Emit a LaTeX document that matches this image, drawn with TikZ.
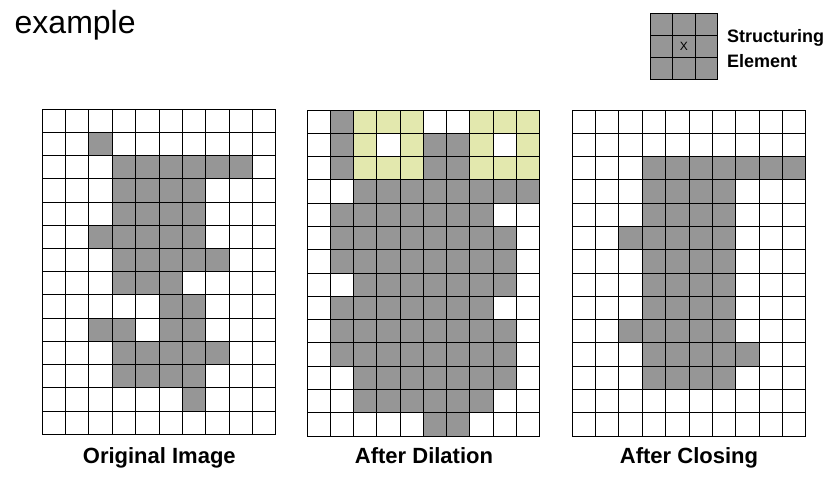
\documentclass[tikz,border=0pt]{standalone}
\usepackage{fontspec}
\setmainfont{Liberation Sans}
\definecolor{cellgray}{RGB}{150,150,150}
\definecolor{cellyel}{RGB}{227,232,174}
\tikzset{
  gridline/.style={draw=black, line width=1pt},
  title/.style={font=\fontsize{22}{24}\selectfont\bfseries, anchor=base},
}
\newcommand{\mygrid}[4]{% ox, oy, w, h
  \foreach \i in {0,...,10} {\draw[gridline] ({#1+\i*#3},{#2}) -- ({#1+\i*#3},{#2+14*#4});}
  \foreach \j in {0,...,14} {\draw[gridline] ({#1},{#2+\j*#4}) -- ({#1+10*#3},{#2+\j*#4});}
}
\begin{document}
\begin{tikzpicture}[x=1pt,y=-1pt]
\useasboundingbox (0,0) rectangle (834,479);
% ---------- Grid 1: original ----------
\def\ox{42.3}\def\oy{109.3}\def\cw{23.34}\def\ch{23.21}
\foreach \r/\cs in {1/{2},2/{3,4,5,6,7,8},3/{3,4,5,6},4/{3,4,5,6},5/{2,3,4,5,6},6/{3,4,5,6,7},7/{3,4,5},8/{5,6},9/{2,3,5,6},10/{3,4,5,6,7},11/{3,4,5,6},12/{6}}
  \foreach \c in \cs {\fill[cellgray] ({\ox+\c*\cw},{\oy+\r*\ch}) rectangle ++(\cw,\ch);}
\mygrid{\ox}{\oy}{\cw}{\ch}
% ---------- Grid 2: dilation ----------
\def\ox{307}\def\oy{110}\def\cw{23.27}\def\ch{23.29}
\foreach \r/\cs in {0/{1},1/{1,5,6},2/{1,5,6},3/{2,3,4,5,6,7,8,9},4/{1,2,3,4,5,6,7},5/{1,2,3,4,5,6,7,8},6/{1,2,3,4,5,6,7,8},7/{2,3,4,5,6,7,8},8/{1,2,3,4,5,6,7},9/{1,2,3,4,5,6,7,8},10/{1,2,3,4,5,6,7,8},11/{2,3,4,5,6,7,8},12/{2,3,4,5,6,7},13/{5,6}}
  \foreach \c in \cs {\fill[cellgray] ({\ox+\c*\cw},{\oy+\r*\ch}) rectangle ++(\cw,\ch);}
\foreach \r/\cs in {0/{2,3,4,7,8,9},1/{2,4,7,9},2/{2,3,4,7,8,9}}
  \foreach \c in \cs {\fill[cellyel] ({\ox+\c*\cw},{\oy+\r*\ch}) rectangle ++(\cw,\ch);}
\mygrid{\ox}{\oy}{\cw}{\ch}
% ---------- Grid 3: closing ----------
\def\ox{572.3}\def\oy{110}\def\cw{23.34}\def\ch{23.29}
\foreach \r/\cs in {2/{3,4,5,6,7,8,9},3/{3,4,5,6},4/{3,4,5,6},5/{2,3,4,5,6},6/{3,4,5,6},7/{3,4,5,6},8/{3,4,5,6},9/{2,3,4,5,6},10/{3,4,5,6,7},11/{3,4,5,6}}
  \foreach \c in \cs {\fill[cellgray] ({\ox+\c*\cw},{\oy+\r*\ch}) rectangle ++(\cw,\ch);}
\mygrid{\ox}{\oy}{\cw}{\ch}
% ---------- Structuring element ----------
\fill[cellgray] (650,13.3) rectangle (717.7,79);
\foreach \i in {0,...,3} {\draw[gridline] ({650+\i*22.57},13.3) -- ({650+\i*22.57},79);}
\foreach \j in {0,...,3} {\draw[gridline] (650,{13.3+\j*21.9}) -- (717.7,{13.3+\j*21.9});}
\node (sex) at (683.8,46.2) {\fontsize{12}{12}\selectfont X};
\node[anchor=base west, inner sep=0pt] (se1) at (727,42.7) {\fontsize{18}{20}\selectfont\bfseries Structuring};
\node[anchor=base west, inner sep=0pt] (se2) at (727,67.5) {\fontsize{18}{20}\selectfont\bfseries Element};
% ---------- Titles ----------
\node[anchor=base west, inner sep=0pt] (ex) at (14.5,33.5) {\fontsize{32}{34}\selectfont example};
\node[title] (t1) at (159.3,463.3) {Original Image};
\node[title] (t2) at (424,463.3) {After Dilation};
\node[title] (t3) at (689,463.3) {After Closing};
\end{tikzpicture}
\end{document}
